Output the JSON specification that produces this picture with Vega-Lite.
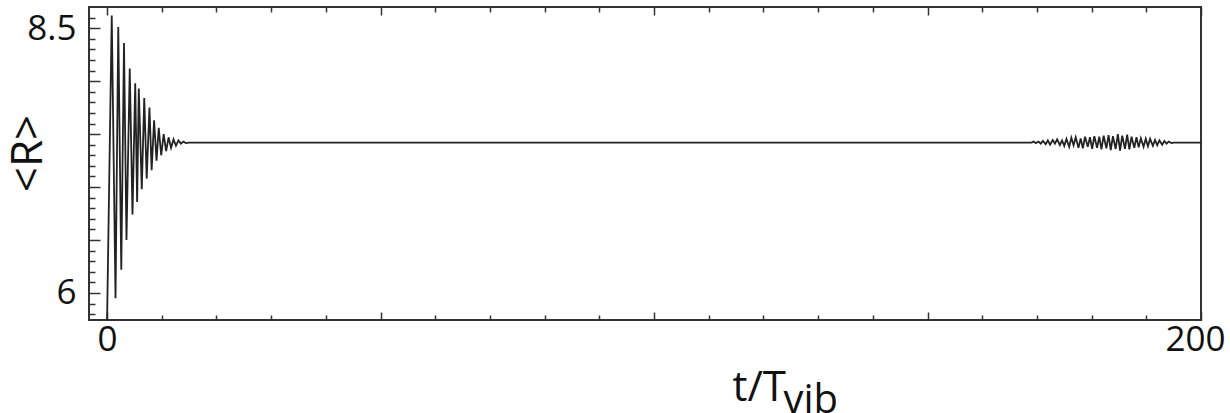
{
  "$schema": "https://vega.github.io/schema/vega-lite/v6.json",
  "width": 1112,
  "height": 313,
  "autosize": "none",
  "padding": {"left": 89, "top": 7, "right": 29, "bottom": 93},
  "config": {
    "view": {"stroke": "#333333", "strokeWidth": 2},
    "font": "Open Sans"
  },
  "data": {
    "values": [
      {"t": 0, "R": 5.72},
      {"t": 0.86, "R": 8.62},
      {"t": 1.55, "R": 5.95},
      {"t": 2.05, "R": 8.51},
      {"t": 2.6, "R": 6.22},
      {"t": 3.1, "R": 8.36},
      {"t": 3.55, "R": 6.5},
      {"t": 4.15, "R": 8.12},
      {"t": 4.65, "R": 6.74},
      {"t": 5.15, "R": 7.98},
      {"t": 5.5, "R": 6.86},
      {"t": 5.8, "R": 7.93},
      {"t": 6.35, "R": 6.98},
      {"t": 6.8, "R": 7.84},
      {"t": 7.25, "R": 7.08},
      {"t": 7.75, "R": 7.75},
      {"t": 8.15, "R": 7.16},
      {"t": 8.6, "R": 7.63},
      {"t": 9.05, "R": 7.25},
      {"t": 9.45, "R": 7.56},
      {"t": 9.9, "R": 7.3},
      {"t": 10.35, "R": 7.5},
      {"t": 10.8, "R": 7.34},
      {"t": 11.25, "R": 7.47},
      {"t": 11.7, "R": 7.37},
      {"t": 12.15, "R": 7.45},
      {"t": 12.6, "R": 7.39},
      {"t": 13.05, "R": 7.44},
      {"t": 13.5, "R": 7.41},
      {"t": 13.95, "R": 7.43},
      {"t": 14.4, "R": 7.415},
      {"t": 15.0, "R": 7.42},
      {"t": 169.0, "R": 7.42},
      {"t": 169.4, "R": 7.43},
      {"t": 169.8, "R": 7.415},
      {"t": 170.3, "R": 7.43},
      {"t": 170.7, "R": 7.41},
      {"t": 171.1, "R": 7.435},
      {"t": 171.6, "R": 7.405},
      {"t": 172.0, "R": 7.44},
      {"t": 172.4, "R": 7.4},
      {"t": 172.9, "R": 7.445},
      {"t": 173.3, "R": 7.41},
      {"t": 173.7, "R": 7.45},
      {"t": 174.2, "R": 7.395},
      {"t": 174.6, "R": 7.44},
      {"t": 175.0, "R": 7.39},
      {"t": 175.4, "R": 7.455},
      {"t": 175.9, "R": 7.38},
      {"t": 176.3, "R": 7.465},
      {"t": 176.7, "R": 7.395},
      {"t": 177.1, "R": 7.47},
      {"t": 177.6, "R": 7.37},
      {"t": 178.0, "R": 7.46},
      {"t": 178.4, "R": 7.365},
      {"t": 178.8, "R": 7.475},
      {"t": 179.3, "R": 7.38},
      {"t": 179.7, "R": 7.47},
      {"t": 180.1, "R": 7.36},
      {"t": 180.5, "R": 7.48},
      {"t": 181.0, "R": 7.37},
      {"t": 181.4, "R": 7.475},
      {"t": 181.8, "R": 7.355},
      {"t": 182.2, "R": 7.485},
      {"t": 182.7, "R": 7.365},
      {"t": 183.1, "R": 7.49},
      {"t": 183.5, "R": 7.35},
      {"t": 183.9, "R": 7.48},
      {"t": 184.4, "R": 7.36},
      {"t": 184.8, "R": 7.5},
      {"t": 185.2, "R": 7.345},
      {"t": 185.6, "R": 7.485},
      {"t": 186.1, "R": 7.36},
      {"t": 186.5, "R": 7.495},
      {"t": 186.9, "R": 7.355},
      {"t": 187.3, "R": 7.475},
      {"t": 187.8, "R": 7.37},
      {"t": 188.2, "R": 7.47},
      {"t": 188.6, "R": 7.375},
      {"t": 189.0, "R": 7.46},
      {"t": 189.5, "R": 7.38},
      {"t": 189.9, "R": 7.455},
      {"t": 190.3, "R": 7.385},
      {"t": 190.7, "R": 7.455},
      {"t": 191.2, "R": 7.39},
      {"t": 191.6, "R": 7.445},
      {"t": 192.0, "R": 7.395},
      {"t": 192.4, "R": 7.44},
      {"t": 192.9, "R": 7.4},
      {"t": 193.3, "R": 7.435},
      {"t": 193.7, "R": 7.41},
      {"t": 194.1, "R": 7.43},
      {"t": 194.6, "R": 7.415},
      {"t": 195.0, "R": 7.42},
      {"t": 200.0, "R": 7.42}
    ]
  },
  "layer": [
    {
      "mark": {"type": "line", "color": "#222222", "strokeWidth": 1.8, "clip": true},
      "encoding": {
        "x": {
          "field": "t",
          "type": "quantitative",
          "scale": {"domain": [-3.3, 200], "nice": false, "zero": false},
          "axis": {
            "orient": "bottom",
            "values": [0, 10, 20, 30, 40, 50, 60, 70, 80, 90, 100, 110, 120, 130, 140, 150, 160, 170, 180, 190, 200],
            "labelExpr": "datum.value == 0 ? '0' : datum.value == 200 ? '200' : ''",
            "domain": false,
            "grid": false,
            "tickSize": {"condition": {"test": "datum.value % 50 == 0", "value": -8}, "value": -5},
            "tickColor": "#333333",
            "tickWidth": 1.5,
            "labelFontSize": 35,
            "labelColor": "#111111",
            "labelPadding": 10,
            "labelOffset": {"condition": {"test": "datum.value == 200", "value": -6}, "value": 0},
            "labelFlush": false,
            "labelOverlap": false,
            "title": "t/T",
            "titleFontSize": 42,
            "titleFontWeight": "normal",
            "titleColor": "#111111",
            "titleAlign": "left",
            "titleBaseline": "alphabetic",
            "titleX": 643,
            "titleY": 80
          }
        },
        "y": {
          "field": "R",
          "type": "quantitative",
          "scale": {"domain": [5.745, 8.7], "nice": false, "zero": false},
          "axis": {
            "values": [5.8, 5.9, 6, 6.1, 6.2, 6.3, 6.4, 6.5, 6.6, 6.7, 6.8, 6.9, 7, 7.1, 7.2, 7.3, 7.4, 7.5, 7.6, 7.7, 7.8, 7.9, 8, 8.1, 8.2, 8.3, 8.4, 8.5, 8.6],
            "labelExpr": "abs(datum.value - 8.5) < 0.001 ? '8.5' : abs(datum.value - 6) < 0.001 ? '6' : ''",
            "domain": false,
            "grid": false,
            "tickSize": {"condition": {"test": "abs(datum.value * 2 - round(datum.value * 2)) < 0.001", "value": -11}, "value": -6},
            "tickColor": "#333333",
            "tickWidth": 1.5,
            "labelFontSize": 35,
            "labelColor": "#111111",
            "labelPadding": 24,
            "labelOverlap": false,
            "labelFlush": false,
            "title": "<R>",
            "titleFontSize": 44,
            "titleFontWeight": "normal",
            "titleColor": "#111111",
            "titleAngle": -90,
            "titleAlign": "center",
            "titleBaseline": "alphabetic",
            "titleX": -48,
            "titleY": 146
          }
        }
      }
    },
    {
      "mark": {"type": "point", "opacity": 0},
      "encoding": {
        "x": {
          "field": "t",
          "type": "quantitative",
          "axis": {
            "orient": "top",
            "values": [0, 10, 20, 30, 40, 50, 60, 70, 80, 90, 100, 110, 120, 130, 140, 150, 160, 170, 180, 190, 200],
            "labels": false,
            "domain": false,
            "grid": false,
            "tickSize": {"condition": {"test": "datum.value % 50 == 0", "value": -8}, "value": -5},
            "tickColor": "#333333",
            "tickWidth": 1.5,
            "title": "vib",
            "titleFontSize": 40,
            "titleFontWeight": "normal",
            "titleColor": "#111111",
            "titleAlign": "left",
            "titleBaseline": "alphabetic",
            "titleX": 694,
            "titleY": 405
          }
        }
      }
    }
  ],
  "resolve": {"axis": {"x": "independent"}}
}
